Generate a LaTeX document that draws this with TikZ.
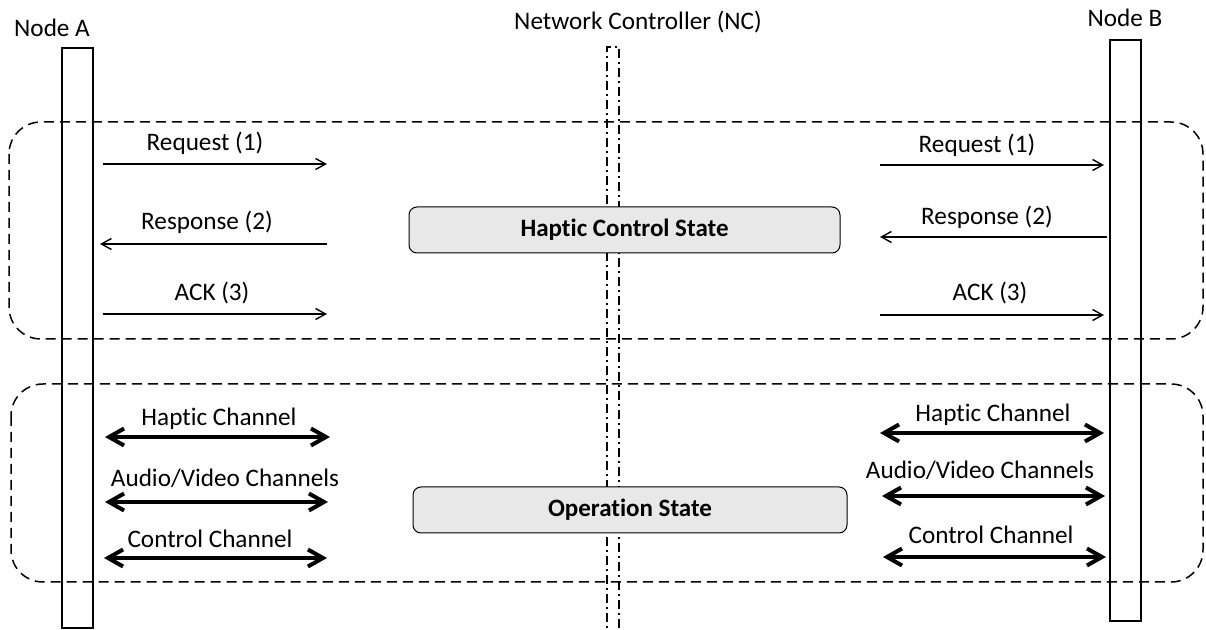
\documentclass[tikz,border=0pt]{standalone}
\usepackage{fontspec}
\setmainfont{Carlito}[Ligatures=NoCommon]
\usetikzlibrary{arrows.meta}

\tikzset{
  lifeline/.style={draw, line width=0.75pt, minimum width=15.5pt, inner sep=0pt},
  ncline/.style={line width=0.7pt, dash pattern=on 4.5pt off 2pt on 1pt off 2pt},
  phase/.style={line width=0.75pt, dash pattern=on 5pt off 3pt, rounded corners=16pt},
  statebox/.style={draw, line width=0.5pt, fill=gray!18, rounded corners=4pt, font=\fontsize{12.5}{14}\selectfont\bfseries, inner sep=0pt},
  msg/.style={line width=0.7pt, -{Straight Barb[length=5pt,width=5.5pt]}},
  chan/.style={line width=2pt, {Straight Barb[length=7.5pt,width=8.5pt]}-{Straight Barb[length=7.5pt,width=8.5pt]}},
}

\begin{document}
\begin{tikzpicture}[x=0.5pt,y=-0.5pt,font=\fontsize{12.6}{14}\selectfont]
                \useasboundingbox (0,0) rectangle (1206,630);

                % titles and lifelines
                \node (NodeA) at (52,28) {Node A};
                \node (NodeB) at (1125,18) {Node B};
                \node (NC) at (638,22) {Network Controller (NC)};
                \node[lifeline, minimum height=290pt] (LA) at (77.5,338) {};
                \node[lifeline, minimum height=290.5pt] (LB) at (1125.5,330.5) {};
                \draw[ncline] (607,660) -- (607,47) -- (619,47) -- (619,660);

                % phases
                \draw[phase] (9,122) rectangle (1203,339);
                \draw[phase] (11,384) rectangle (1203,582);
                \node[statebox, minimum width=215.5pt, minimum height=23pt] (HCS) at (624.5,230) {Haptic Control State};
                \node[statebox, minimum width=217pt, minimum height=23pt] (OS) at (630,510) {Operation State};

                % handshake, node A side
                \coordinate (A1s) at (103,164); \coordinate (A1e) at (327,164);
                \coordinate (A2s) at (327,244); \coordinate (A2e) at (100,244);
                \coordinate (A3s) at (103,314); \coordinate (A3e) at (327,314);
                \node (ReqA) at (205,143) {Request (1)};
                \node (ResA) at (207,222) {Response (2)};
                \node (AckA) at (212,293) {ACK (3)};
                \draw[msg] (A1s) to (A1e);
                \draw[msg] (A2s) to (A2e);
                \draw[msg] (A3s) to (A3e);

                % handshake, node B side
                \coordinate (B1s) at (880,165); \coordinate (B1e) at (1104,165);
                \coordinate (B2s) at (1107,237); \coordinate (B2e) at (880,237);
                \coordinate (B3s) at (880,315); \coordinate (B3e) at (1104,315);
                \node (ReqB) at (977,145) {Request (1)};
                \node (ResB) at (987,217) {Response (2)};
                \node (AckB) at (990,293) {ACK (3)};
                \draw[msg] (B1s) to (B1e);
                \draw[msg] (B2s) to (B2e);
                \draw[msg] (B3s) to (B3e);

                % channels, node A side
                \coordinate (CA1s) at (105,437); \coordinate (CA1e) at (330,437);
                \coordinate (CA2s) at (105,502); \coordinate (CA2e) at (328,502);
                \coordinate (CA3s) at (104,558); \coordinate (CA3e) at (327,558);
                \node (HapA) at (219,419) {Haptic Channel};
                \node (AVA) at (225,478) {Audio/Video Channels};
                \node (CtlA) at (210,539) {Control Channel};
                \draw[chan] (CA1s) to (CA1e);
                \draw[chan] (CA2s) to (CA2e);
                \draw[chan] (CA3s) to (CA3e);

                % channels, node B side
                \coordinate (CB1s) at (880,433); \coordinate (CB1e) at (1104,433);
                \coordinate (CB2s) at (882,496); \coordinate (CB2e) at (1105,496);
                \coordinate (CB3s) at (883,557); \coordinate (CB3e) at (1106,557);
                \node (HapB) at (993,415) {Haptic Channel};
                \node (AVB) at (980,470) {Audio/Video Channels};
                \node (CtlB) at (991,535) {Control Channel};
                \draw[chan] (CB1s) to (CB1e);
                \draw[chan] (CB2s) to (CB2e);
                \draw[chan] (CB3s) to (CB3e);
            \end{tikzpicture}
\end{document}
